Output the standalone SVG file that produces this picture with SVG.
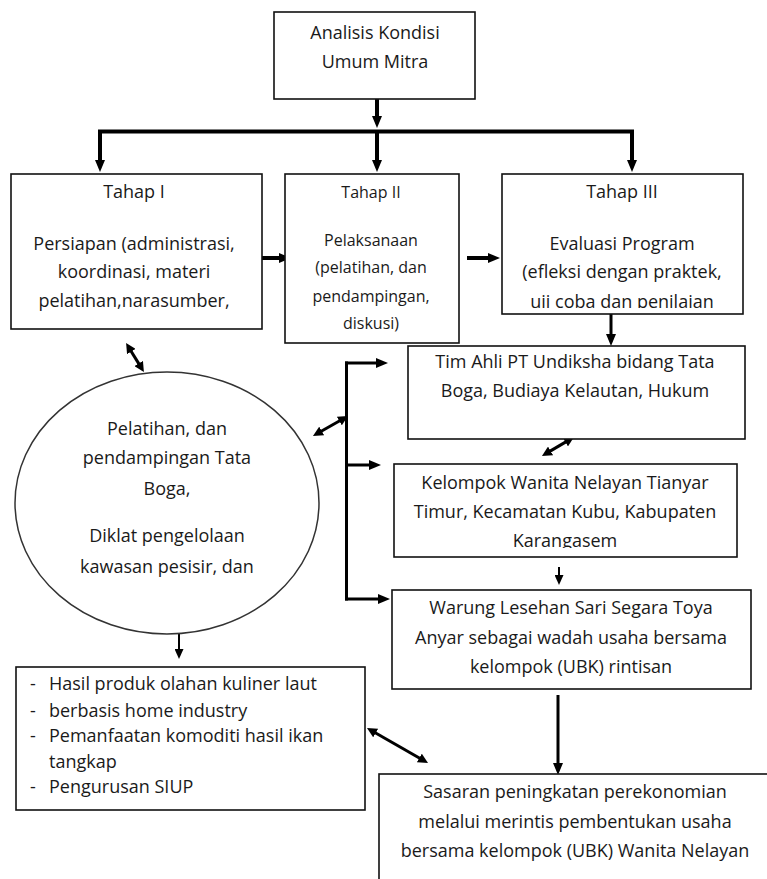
<svg xmlns="http://www.w3.org/2000/svg" width="767" height="879" viewBox="0 0 767 879">
<style>
.box{fill:#fff;stroke:#111;stroke-width:1.6}
.ell{fill:#fff;stroke:#333;stroke-width:1.5}
.t{font-family:"Open Sans","Liberation Sans",sans-serif;font-size:18px;fill:#1a1a1a;text-anchor:middle}
.ts{font-size:16px}
.tl{text-anchor:start}
.c{fill:none;stroke:#000;stroke-width:4}
.m{stroke-width:3}
.s{stroke-width:2}
.big{marker-end:url(#ah)}
.sm{marker-end:url(#as)}
.dbl{marker-start:url(#as2);marker-end:url(#as2)}
</style>
<defs>
<marker id="ah" viewBox="0 0 12 10" markerUnits="userSpaceOnUse" markerWidth="12" markerHeight="10" refX="1" refY="5" orient="auto"><path d="M0,0 L12,5 L0,10 z" fill="#000"/></marker>
<marker id="as" viewBox="0 0 10 9" markerUnits="userSpaceOnUse" markerWidth="10" markerHeight="9" refX="1" refY="4.5" orient="auto"><path d="M0,0 L10,4.5 L0,9 z" fill="#000"/></marker>
<marker id="as2" viewBox="0 0 10 10" markerUnits="userSpaceOnUse" markerWidth="10" markerHeight="10" refX="1" refY="5" orient="auto-start-reverse"><path d="M0,0 L10,5 L0,10 z" fill="#000"/></marker>
<clipPath id="clip3"><rect x="502" y="174" width="241" height="134"/></clipPath>
<clipPath id="clipK"><rect x="394" y="464" width="343" height="84"/></clipPath>
</defs>

<g id="connectors">
<line class="c big" x1="377" y1="99" x2="377" y2="117"/>
<line class="c" x1="98" y1="131.5" x2="634" y2="131.5"/>
<line class="c big" x1="100" y1="131" x2="100" y2="161"/>
<line class="c big" x1="377" y1="131" x2="377" y2="161"/>
<line class="c big" x1="632" y1="131" x2="632" y2="161"/>
<line class="c big" x1="259" y1="258" x2="280" y2="258"/>
<line class="c big" x1="467" y1="258" x2="489" y2="258"/>
<line class="c m big" x1="611" y1="314" x2="611" y2="335"/>
<line class="c m" x1="346.5" y1="361.5" x2="346.5" y2="600.5"/>
<line class="c m big" x1="345" y1="363" x2="377" y2="363"/>
<line class="c m big" x1="346" y1="465" x2="370" y2="465"/>
<line class="c m big" x1="345" y1="599" x2="379" y2="599"/>
<line class="c m dbl" x1="130.8" y1="350.7" x2="139.2" y2="364.4"/>
<line class="c m dbl" x1="320.8" y1="431.5" x2="340.2" y2="420.5"/>
<line class="c m dbl" x1="566.3" y1="441.6" x2="549.7" y2="451.4"/>
<line class="c m dbl" x1="374.8" y1="732.5" x2="420.2" y2="758.5"/>
<line class="c s sm" x1="559" y1="567" x2="559" y2="576"/>
<line class="c s sm" x1="179" y1="633" x2="179" y2="650"/>
<line class="c m big" x1="558" y1="695" x2="558" y2="764"/>
</g>

<g id="analisis">
<rect class="box" x="274" y="12" width="201" height="87"/>
<text class="t" x="375" y="39">Analisis Kondisi</text>
<text class="t" x="375" y="68">Umum Mitra</text>
</g>

<g id="tahap1">
<rect class="box" x="11" y="174" width="251" height="155"/>
<text class="t" x="134" y="198">Tahap I</text>
<text class="t" x="134" y="250">Persiapan (administrasi,</text>
<text class="t" x="134" y="278">koordinasi, materi</text>
<text class="t" x="134" y="307">pelatihan,narasumber,</text>
</g>

<g id="tahap2">
<rect class="box" x="285" y="174" width="174" height="169"/>
<text class="t ts" x="371" y="198">Tahap II</text>
<text class="t ts" x="371" y="246">Pelaksanaan</text>
<text class="t ts" x="371" y="273">(pelatihan, dan</text>
<text class="t ts" x="371" y="302">pendampingan,</text>
<text class="t ts" x="371" y="329">diskusi)</text>
</g>

<g id="tahap3">
<rect class="box" x="502" y="174" width="241" height="140"/>
<g clip-path="url(#clip3)">
<text class="t" x="622" y="198">Tahap III</text>
<text class="t" x="622" y="250">Evaluasi Program</text>
<text class="t" x="622" y="278">(efleksi dengan praktek,</text>
<text class="t" x="622" y="307.5">uji coba dan penilaian</text>
</g>
</g>

<g id="timahli">
<rect class="box" x="408" y="346" width="337" height="93"/>
<text class="t" x="575" y="368">Tim Ahli PT Undiksha bidang Tata</text>
<text class="t" x="575" y="397">Boga, Budiaya Kelautan, Hukum</text>
</g>

<g id="pelatihan">
<ellipse class="ell" cx="167" cy="503" rx="152" ry="131"/>
<text class="t" x="167" y="435">Pelatihan, dan</text>
<text class="t" x="167" y="464">pendampingan Tata</text>
<text class="t" x="167" y="495">Boga,</text>
<text class="t" x="167" y="542">Diklat pengelolaan</text>
<text class="t" x="167" y="573">kawasan pesisir, dan</text>
</g>

<g id="kelompok">
<rect class="box" x="394" y="464" width="343" height="93"/>
<g clip-path="url(#clipK)">
<text class="t" x="565" y="489">Kelompok Wanita Nelayan Tianyar</text>
<text class="t" x="565" y="518">Timur, Kecamatan Kubu, Kabupaten</text>
<text class="t" x="565" y="547">Karangasem</text>
</g>
</g>

<g id="warung">
<rect class="box" x="392" y="590" width="359" height="99"/>
<text class="t" x="571" y="614">Warung Lesehan Sari Segara Toya</text>
<text class="t" x="571" y="644">Anyar sebagai wadah usaha bersama</text>
<text class="t" x="571" y="673">kelompok (UBK) rintisan</text>
</g>

<g id="hasil">
<rect class="box" x="16" y="667" width="349" height="143"/>
<text class="t tl" x="30" y="690">-</text>
<text class="t tl" x="49" y="690">Hasil produk olahan kuliner laut</text>
<text class="t tl" x="30" y="717">-</text>
<text class="t tl" x="49" y="717">berbasis home industry</text>
<text class="t tl" x="30" y="742">-</text>
<text class="t tl" x="49" y="742">Pemanfaatan komoditi hasil ikan</text>
<text class="t tl" x="49" y="768">tangkap</text>
<text class="t tl" x="30" y="793">-</text>
<text class="t tl" x="49" y="793">Pengurusan SIUP</text>
</g>

<g id="sasaran">
<rect class="box" x="379" y="774" width="410" height="130"/>
<text class="t" x="575" y="798">Sasaran peningkatan perekonomian</text>
<text class="t" x="575" y="828">melalui merintis pembentukan usaha</text>
<text class="t" x="575" y="857">bersama kelompok (UBK) Wanita Nelayan</text>
</g>
</svg>
